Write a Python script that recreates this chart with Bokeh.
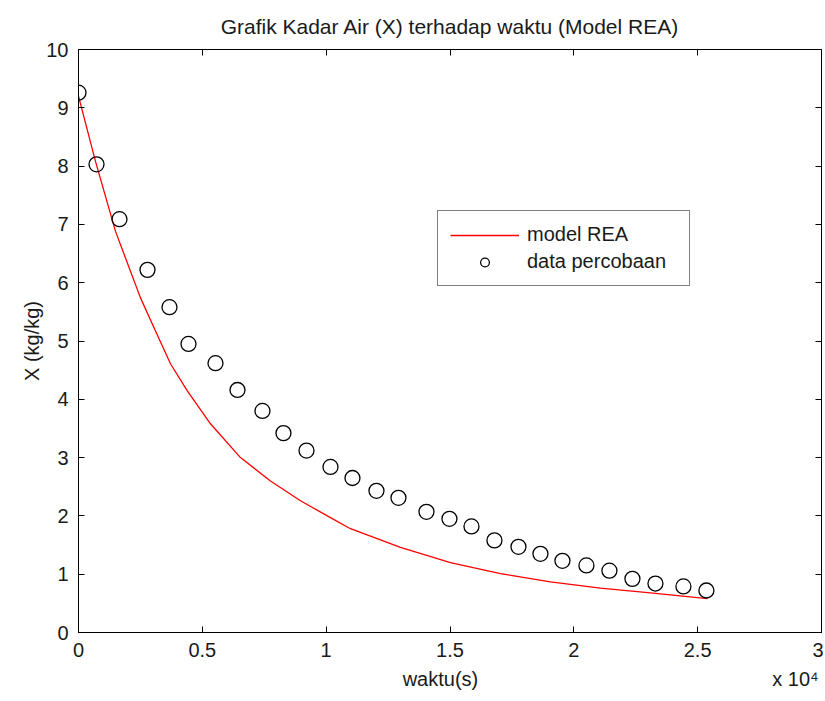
from bokeh.plotting import figure
from bokeh.models import (Range1d, FixedTicker, LinearAxis, Legend, LegendItem,
                          CustomJSTickFormatter)
from bokeh.embed import file_html
from bokeh.resources import INLINE

# experimental data (time in s, X in kg/kg)
data_t = [0, 727, 1655, 2786, 3674, 4441, 5531, 6419, 7428, 8276, 9205, 10174, 11062,
          12031, 12919, 14050, 14978, 15867, 16795, 17764, 18652, 19540, 20509, 21437,
          22366, 23295, 24425, 25353]
data_x = [9.26, 8.03, 7.09, 6.22, 5.58, 4.95, 4.62, 4.16, 3.80, 3.42, 3.12, 2.84, 2.65,
          2.43, 2.31, 2.07, 1.95, 1.82, 1.58, 1.47, 1.35, 1.23, 1.15, 1.06,
          0.92, 0.84, 0.79, 0.72]

# REA model curve
model_t = [0, 686, 1494, 2503, 3109, 3714, 4400, 5329, 6540, 7751, 8963, 10174, 10981,
           13000, 15018, 17037, 19056, 21074, 23093, 25393]
model_x = [9.2, 8.08, 6.88, 5.74, 5.17, 4.61, 4.14, 3.58, 3.00, 2.60, 2.26, 1.97, 1.78,
           1.46, 1.20, 1.01, 0.87, 0.76, 0.68, 0.58]

x_ticks = [0, 5000, 10000, 15000, 20000, 25000, 30000]
x_tick_labels = ["0", "0.5", "1", "1.5", "2", "2.5", "3"]
y_ticks = list(range(0, 11))
x_axis_texts = ["waktu(s)", "x 10\u2074"]   # axis title and exponent note

FONT = "Liberation Sans"
FS = "20px"
TXT = "#1a1a1a"

p = figure(width=823, height=698, output_backend="svg", toolbar_location=None,
           x_range=Range1d(0, 30000), y_range=Range1d(0, 10),
           min_border_left=78, min_border_right=2, min_border_top=48, min_border_bottom=66)
p.xgrid.visible = False
p.ygrid.visible = False
p.outline_line_color = "black"
p.outline_line_width = 1
p.background_fill_color = "white"
p.border_fill_color = "white"

p.title.text = "Grafik Kadar Air (X) terhadap waktu (Model REA)"
p.title.align = "center"
p.title.text_font = FONT
p.title.text_font_size = "21px"
p.title.text_font_style = "normal"
p.title.text_color = TXT
p.title.standoff = 24

def style_axis(ax):
    ax.axis_line_color = "black"
    ax.major_tick_in = 6
    ax.major_tick_out = 0
    ax.minor_tick_line_color = None
    ax.major_tick_line_color = "black"
    ax.major_label_text_font = FONT
    ax.major_label_text_font_size = FS
    ax.major_label_text_color = TXT
    ax.axis_label_text_font = FONT
    ax.axis_label_text_font_size = FS
    ax.axis_label_text_font_style = "normal"
    ax.axis_label_text_color = TXT

xa = p.xaxis[0]
xa.ticker = FixedTicker(ticks=x_ticks)
xa.major_label_overrides = {t: l for t, l in zip(x_ticks, x_tick_labels)}
style_axis(xa)
xa.major_label_standoff = 10

# second row under the x axis: axis title "waktu(s)" and the "x 10^4" multiplier
note_pos = [14615, 28950]
xnote = LinearAxis(ticker=FixedTicker(ticks=note_pos),
                   major_label_overrides={t: s for t, s in zip(note_pos, x_axis_texts)})
style_axis(xnote)
xnote.axis_line_color = None
xnote.major_tick_line_color = None
xnote.major_tick_in = 0
xnote.major_label_standoff = 8
p.add_layout(xnote, "below")

ya = p.yaxis[0]
ya.ticker = FixedTicker(ticks=y_ticks)
ya.axis_label = "X (kg/kg)"
style_axis(ya)
ya.axis_label_standoff = 0
ya.major_label_standoff = 10

blank = CustomJSTickFormatter(code="return ''")
top = LinearAxis(ticker=FixedTicker(ticks=x_ticks), formatter=blank)
style_axis(top)
top.major_label_standoff = 0
p.add_layout(top, "above")
right = LinearAxis(ticker=FixedTicker(ticks=y_ticks), formatter=blank)
style_axis(right)
right.major_label_standoff = 0
p.add_layout(right, "right")

r_model = p.line(model_t, model_x, line_color="red", line_width=1.3)
r_data = p.scatter(data_t, data_x, marker="circle", size=15, fill_color=None,
                   line_color="black", line_width=1.3)

legend = Legend(items=[LegendItem(label="model REA", renderers=[r_model]),
                       LegendItem(label="data percobaan", renderers=[r_data])],
                location=(359, 346))
legend.border_line_color = "black"
legend.border_line_width = 1
legend.label_text_font = FONT
legend.label_text_font_size = FS
legend.label_text_color = TXT
legend.glyph_width = 69
legend.glyph_height = 22
legend.label_height = 22
legend.label_width = 150
legend.label_standoff = 8
legend.spacing = 4
legend.padding = 12
legend.margin = 0
p.add_layout(legend, "center")

open("out.html", "w").write(file_html(p, INLINE))
